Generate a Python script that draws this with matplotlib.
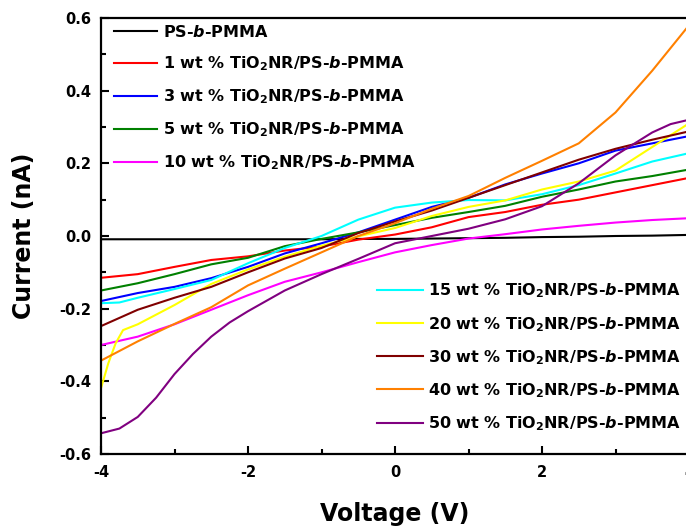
import matplotlib
matplotlib.use("Agg")
import matplotlib.pyplot as plt
from matplotlib.ticker import MultipleLocator

plt.rcParams["font.family"] = "DejaVu Sans"
plt.rcParams["font.weight"] = "bold"
plt.rcParams["mathtext.fontset"] = "custom"
plt.rcParams["mathtext.rm"] = "DejaVu Sans:bold"
plt.rcParams["mathtext.bf"] = "DejaVu Sans:bold"
plt.rcParams["mathtext.it"] = "DejaVu Sans:italic:bold"

# Voltage grid (V) shared by most sweeps
V = [-4, -3.5, -3, -2.5, -2, -1.5, -1, -0.5, 0, 0.5, 1, 1.5, 2, 2.5, 3, 3.5, 4]

# Current (nA) for each film
pure = [-0.009, -0.009, -0.009, -0.009, -0.009, -0.009, -0.009, -0.008, -0.008,
        -0.007, -0.006, -0.005, -0.003, -0.002, 0.000, 0.001, 0.003]
wt1 = [-0.115, -0.105, -0.085, -0.066, -0.056, -0.040, -0.029, -0.010, 0.004,
       0.024, 0.052, 0.066, 0.086, 0.100, 0.120, 0.140, 0.160]
wt3 = [-0.179, -0.157, -0.140, -0.116, -0.085, -0.048, -0.020, 0.010, 0.045,
       0.080, 0.105, 0.142, 0.172, 0.200, 0.235, 0.255, 0.275]
wt5 = [-0.150, -0.130, -0.105, -0.078, -0.060, -0.028, -0.008, 0.010, 0.030,
       0.050, 0.066, 0.083, 0.108, 0.128, 0.150, 0.165, 0.183]
wt10 = [-0.300, -0.277, -0.243, -0.203, -0.163, -0.126, -0.100, -0.072, -0.045,
        -0.025, -0.007, 0.005, 0.018, 0.028, 0.037, 0.044, 0.049]
V15 = [-4, -3.75, -3.5, -3, -2.5, -2, -1.5, -1, -0.5, 0, 0.5, 1, 1.5, 2, 2.5, 3, 3.5, 4]
wt15 = [-0.185, -0.183, -0.170, -0.146, -0.121, -0.075, -0.033, 0.000, 0.045,
        0.078, 0.092, 0.099, 0.098, 0.115, 0.140, 0.172, 0.205, 0.228]
V20 = [-4, -3.9, -3.8, -3.7, -3.5, -3, -2.5, -2, -1.5, -1, -0.5, 0, 0.5, 1,
       1.5, 2, 2.5, 3, 3.5, 4]
wt20 = [-0.419, -0.350, -0.295, -0.259, -0.243, -0.190, -0.132, -0.092, -0.057,
        -0.027, -0.001, 0.022, 0.055, 0.080, 0.098, 0.128, 0.150, 0.180, 0.245, 0.310]
wt30 = [-0.248, -0.203, -0.170, -0.140, -0.100, -0.062, -0.033, 0.008, 0.040,
        0.070, 0.105, 0.140, 0.175, 0.210, 0.240, 0.265, 0.288]
wt40 = [-0.343, -0.290, -0.242, -0.196, -0.136, -0.090, -0.045, 0.000, 0.035,
        0.075, 0.110, 0.160, 0.207, 0.255, 0.340, 0.455, 0.580]
V50 = [-4, -3.75, -3.5, -3.25, -3, -2.75, -2.5, -2.25, -2, -1.5, -1, -0.5, 0,
       0.5, 1, 1.5, 2, 2.5, 3, 3.5, 3.75, 4]
wt50 = [-0.543, -0.530, -0.498, -0.445, -0.380, -0.325, -0.277, -0.238, -0.207,
        -0.150, -0.105, -0.063, -0.020, 0.000, 0.020, 0.046, 0.082, 0.145, 0.222,
        0.285, 0.308, 0.320]

comp = r"TiO$_\mathrm{2}$NR/PS-$\mathit{b}$-PMMA"
series = [
    (V, pure, "#000000", r"PS-$\mathit{b}$-PMMA"),
    (V, wt1, "#ff0000", "1 wt % " + comp),
    (V, wt3, "#0000ff", "3 wt % " + comp),
    (V, wt5, "#008000", "5 wt % " + comp),
    (V, wt10, "#ff00ff", "10 wt % " + comp),
    (V15, wt15, "#00ffff", "15 wt % " + comp),
    (V20, wt20, "#ffff00", "20 wt % " + comp),
    (V, wt30, "#800000", "30 wt % " + comp),
    (V, wt40, "#ff8000", "40 wt % " + comp),
    (V50, wt50, "#800080", "50 wt % " + comp),
]

fig = plt.figure(figsize=(6.86, 5.28), dpi=100)
ax = fig.add_axes([101 / 686, 1 - 454 / 528, 588 / 686, 436 / 528])

handles = []
for xs, ys, c, lab in series:
    h, = ax.plot(xs, ys, color=c, lw=1.5, label=lab)
    handles.append(h)

ax.set_xlim(-4, 4)
ax.set_ylim(-0.6, 0.6)
ax.xaxis.set_minor_locator(MultipleLocator(1))
ax.yaxis.set_minor_locator(MultipleLocator(0.1))
ax.set_yticks([-0.6, -0.4, -0.2, 0.0, 0.2, 0.4, 0.6])
ax.set_yticklabels(["-0.6", "-0.4", "-0.2", "0.0", "0.2", "0.4", "0.6"])
ax.set_xticks([-4, -2, 0, 2, 4])
ax.set_xticklabels(["-4", "-2", "0", "2", "4"])
ax.tick_params(which="both", direction="in", width=1.5, labelsize=10.5)
ax.tick_params(which="major", length=6)
ax.tick_params(which="minor", length=3.5)
ax.tick_params(axis="x", pad=8)
ax.tick_params(axis="y", pad=7)
for s in ax.spines.values():
    s.set_linewidth(1.6)

ax.set_xlabel("Voltage (V)", fontsize=17, fontweight="bold", labelpad=16)
ax.set_ylabel("Current (nA)", fontsize=17, fontweight="bold", labelpad=17)

common = dict(frameon=False, fontsize=11.5, handlelength=2.7,
              handletextpad=0.35, labelspacing=0.9, borderaxespad=0.3)
leg1 = ax.legend(handles=handles[:5], loc="upper left",
                 bbox_to_anchor=(0.003, 1.012), **common)
ax.add_artist(leg1)
leg2_handles = handles[5:]
ax.legend(handles=leg2_handles, loc="lower right",
          bbox_to_anchor=(1.006, 0.023), handlelength=2.9,
          **{k: v for k, v in common.items() if k != "handlelength"})

fig.savefig("out.png", dpi=100)
